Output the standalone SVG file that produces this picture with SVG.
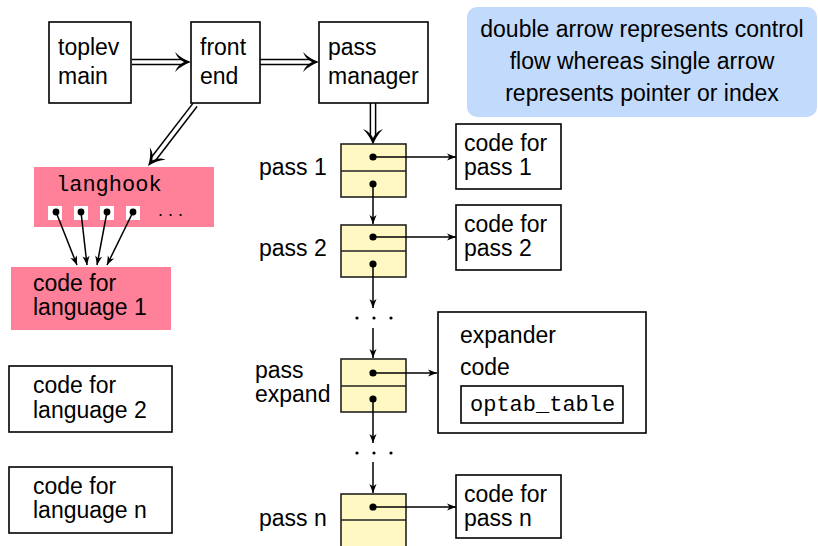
<svg xmlns="http://www.w3.org/2000/svg" width="818" height="546" viewBox="0 0 818 546">
  <style>
    text { font-family: "Liberation Sans", Arial, sans-serif; font-size: 23px; fill: #000; }
    .mono { font-family: "Liberation Mono", "Courier New", monospace; font-size: 22px; }
    .box { fill: #fff; stroke: #000; stroke-width: 1.6; }
    .pink { fill: #ff8199; stroke: none; }
    .slot { fill: #fff8c2; stroke: #222; stroke-width: 1.6; }
    .div { stroke: #222; stroke-width: 1.6; }
    .legend { fill: #c2dafc; stroke: none; }
    .wire { fill: none; stroke: #000; stroke-width: 1.5; }
    .ptr { fill: none; stroke: #000; stroke-width: 1.5; marker-end: url(#tip); }
    .dot { fill: #000; }
    .sq { fill: #fff; stroke: none; }
  </style>
  <defs>
    <marker id="tip" viewBox="-10 -5 10 10" refX="0" refY="0" markerWidth="10" markerHeight="10" markerUnits="userSpaceOnUse" orient="auto">
      <path d="M0,0 L-9,-3.5 L-6.5,0 L-9,3.5 Z" fill="#000"/>
    </marker>
    <!-- head of a double-line arrow, pointing along +x with its tip at the origin -->
    <path id="dhead" d="M0,0 C-6,-2 -11,-5 -16,-10 L-14,-6 C-12,-3 -9,-1 -7,0 C-9,1 -12,3 -14,6 L-16,10 C-11,5 -6,2 0,0 Z" fill="#000"/>
  </defs>

  <!-- control flow (double arrows) -->
  <g id="connectors">
    <g transform="translate(191,62)">
      <line x1="-59" y1="-2.6" x2="-9" y2="-2.6" class="wire"/>
      <line x1="-59" y1="2.6" x2="-9" y2="2.6" class="wire"/>
      <use href="#dhead"/>
    </g>
    <g transform="translate(319,62)">
      <line x1="-59" y1="-2.6" x2="-9" y2="-2.6" class="wire"/>
      <line x1="-59" y1="2.6" x2="-9" y2="2.6" class="wire"/>
      <use href="#dhead"/>
    </g>
    <g transform="translate(148,166) rotate(127.6)">
      <line x1="-77" y1="-2.6" x2="-9" y2="-2.6" class="wire"/>
      <line x1="-77" y1="2.6" x2="-9" y2="2.6" class="wire"/>
      <use href="#dhead"/>
    </g>
    <g transform="translate(373,145) rotate(90)">
      <line x1="-42" y1="-2.6" x2="-9" y2="-2.6" class="wire"/>
      <line x1="-42" y1="2.6" x2="-9" y2="2.6" class="wire"/>
      <use href="#dhead"/>
    </g>
  </g>

  <g id="toplev">
    <rect class="box" x="49" y="22" width="82" height="81"/>
    <text x="58" y="55">toplev</text>
    <text x="58" y="84">main</text>
  </g>
  <g id="frontend">
    <rect class="box" x="191" y="22" width="69" height="81"/>
    <text x="200" y="55">front</text>
    <text x="200" y="84">end</text>
  </g>
  <g id="passmanager">
    <rect class="box" x="319" y="22" width="109" height="81"/>
    <text x="328" y="55">pass</text>
    <text x="328" y="84">manager</text>
  </g>

  <g id="legend">
    <rect class="legend" x="467" y="7" width="350" height="110" rx="10"/>
    <text x="642" y="37" text-anchor="middle">double arrow represents control</text>
    <text x="642" y="69" text-anchor="middle">flow whereas single arrow</text>
    <text x="642" y="101" text-anchor="middle">represents pointer or index</text>
  </g>

  <g id="langhook">
    <rect class="pink" x="34" y="167" width="180" height="60"/>
    <text class="mono" x="56" y="191">langhook</text>
    <rect class="sq" x="48" y="206" width="14" height="14"/>
    <rect class="sq" x="74" y="206" width="14" height="14"/>
    <rect class="sq" x="100" y="206" width="14" height="14"/>
    <rect class="sq" x="126" y="206" width="14" height="14"/>
    <circle class="dot" cx="56" cy="212" r="3.4"/>
    <circle class="dot" cx="81" cy="212" r="3.4"/>
    <circle class="dot" cx="107" cy="212" r="3.4"/>
    <circle class="dot" cx="133" cy="212" r="3.4"/>
    <text x="158" y="216" style="font-size:18px">. . .</text>
  </g>

  <g id="lang1">
    <rect class="pink" x="11" y="267" width="160" height="63"/>
    <text x="33" y="291">code for</text>
    <text x="33" y="315">language 1</text>
  </g>
  <g id="lang2">
    <rect class="box" x="9" y="366" width="163" height="66"/>
    <text x="33" y="393">code for</text>
    <text x="33" y="418">language 2</text>
  </g>
  <g id="langn">
    <rect class="box" x="9" y="467" width="163" height="66"/>
    <text x="33" y="494">code for</text>
    <text x="33" y="518">language n</text>
  </g>

  <!-- pass list -->
  <g id="pass1">
    <text x="259" y="175">pass 1</text>
    <rect class="slot" x="341" y="144" width="65" height="53"/>
    <line class="div" x1="341" y1="171" x2="406" y2="171"/>
  </g>
  <g id="pass2">
    <text x="259" y="256">pass 2</text>
    <rect class="slot" x="341" y="225" width="65" height="52"/>
    <line class="div" x1="341" y1="251" x2="406" y2="251"/>
  </g>
  <g id="passexpand">
    <text x="255" y="378">pass</text>
    <text x="255" y="402">expand</text>
    <rect class="slot" x="341" y="359" width="65" height="53"/>
    <line class="div" x1="341" y1="386" x2="406" y2="386"/>
  </g>
  <g id="passn">
    <text x="259" y="526">pass n</text>
    <rect class="slot" x="341" y="494" width="65" height="56"/>
    <line class="div" x1="341" y1="520" x2="406" y2="520"/>
  </g>

  <g id="code1">
    <rect class="box" x="456" y="124" width="105" height="65"/>
    <text x="464" y="151">code for</text>
    <text x="464" y="175">pass 1</text>
  </g>
  <g id="code2">
    <rect class="box" x="456" y="205" width="105" height="65"/>
    <text x="464" y="232">code for</text>
    <text x="464" y="256">pass 2</text>
  </g>
  <g id="expander">
    <rect class="box" x="438" y="312" width="208" height="121"/>
    <text x="460" y="343">expander</text>
    <text x="460" y="375">code</text>
    <rect class="box" x="461" y="386" width="162" height="37"/>
    <text class="mono" x="470" y="411">optab_table</text>
  </g>
  <g id="coden">
    <rect class="box" x="456" y="475" width="105" height="63"/>
    <text x="464" y="502">code for</text>
    <text x="464" y="526">pass n</text>
  </g>

  <g id="ellipses">
    <circle class="dot" cx="357" cy="318" r="1.6"/>
    <circle class="dot" cx="374" cy="318" r="1.6"/>
    <circle class="dot" cx="391" cy="318" r="1.6"/>
    <circle class="dot" cx="357" cy="453" r="1.6"/>
    <circle class="dot" cx="374" cy="453" r="1.6"/>
    <circle class="dot" cx="391" cy="453" r="1.6"/>
  </g>

  <!-- pointers (single arrows) -->
  <g id="pointers">
    <path class="ptr" d="M56,212 L77,265"/>
    <path class="ptr" d="M81,212 L87,265"/>
    <path class="ptr" d="M107,212 L97,265"/>
    <path class="ptr" d="M133,212 L107,265"/>

    <path class="ptr" d="M373,157 L456,157"/>
    <path class="ptr" d="M373,237 L456,237"/>
    <path class="ptr" d="M373,373 L437,373"/>
    <path class="ptr" d="M373,507 L456,507"/>

    <path class="ptr" d="M373,184 L373,224"/>
    <path class="ptr" d="M373,264 L373,308"/>
    <path class="ptr" d="M373,328 L373,358"/>
    <path class="ptr" d="M373,399 L373,443"/>
    <path class="ptr" d="M373,462 L373,493"/>

    <circle class="dot" cx="373" cy="157" r="3.6"/>
    <circle class="dot" cx="373" cy="184" r="3.6"/>
    <circle class="dot" cx="373" cy="237" r="3.6"/>
    <circle class="dot" cx="373" cy="264" r="3.6"/>
    <circle class="dot" cx="373" cy="373" r="3.6"/>
    <circle class="dot" cx="373" cy="399" r="3.6"/>
    <circle class="dot" cx="373" cy="507" r="3.6"/>
  </g>
</svg>
